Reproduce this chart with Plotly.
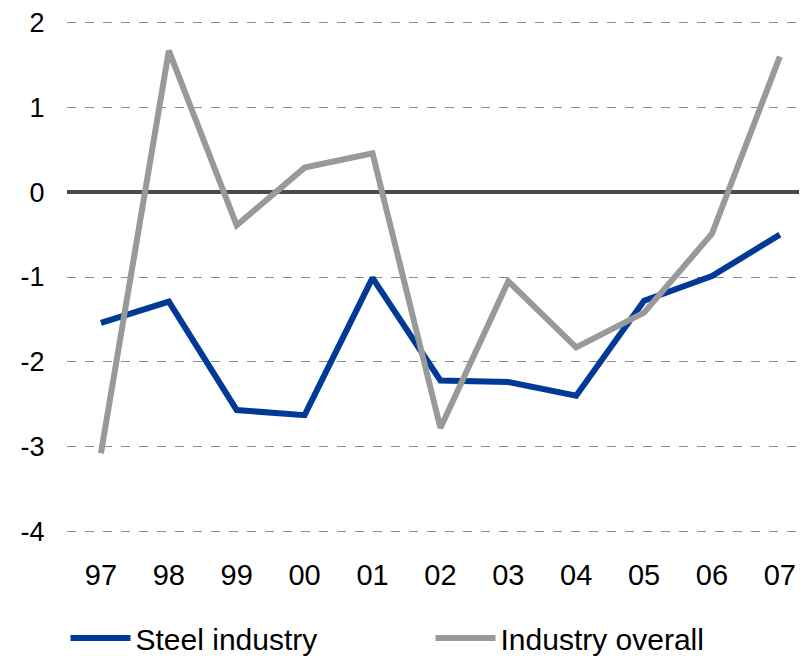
import plotly.graph_objects as go

years = ["97", "98", "99", "00", "01", "02", "03", "04", "05", "06", "07"]
steel_industry = [-1.54, -1.29, -2.57, -2.63, -1.01, -2.22, -2.24, -2.40, -1.28, -0.99, -0.50]
industry_overall = [-3.08, 1.67, -0.39, 0.29, 0.46, -2.78, -1.05, -1.83, -1.42, -0.49, 1.60]
y_ticks = [-4, -3, -2, -1, 0, 1, 2]
y_tick_labels = ["-4", "-3", "-2", "-1", "0", "1", "2"]

fig = go.Figure()
fig.add_trace(go.Scatter(x=years, y=steel_industry, mode="lines", name="Steel industry",
                         line=dict(color="#003a96", width=6)))
fig.add_trace(go.Scatter(x=years, y=industry_overall, mode="lines", name="Industry overall",
                         line=dict(color="#999999", width=6)))

fig.update_layout(
    width=799, height=649,
    margin=dict(l=59, r=0, t=13, b=124, autoexpand=False),
    paper_bgcolor="white", plot_bgcolor="white",
    font=dict(family="Liberation Sans, Arial, sans-serif", color="black"),
    showlegend=True,
    legend=dict(orientation="h", x=-0.002, y=-0.205, xanchor="left", yanchor="middle",
                font=dict(size=30), itemwidth=60, traceorder="normal",
                entrywidth=290, entrywidthmode="pixels"),
    xaxis=dict(type="category", range=[-0.5, 10.4], showgrid=False, showline=False,
               zeroline=False, ticks="outside", ticklen=16, tickcolor="rgba(0,0,0,0)",
               tickfont=dict(size=29), automargin=False),
    yaxis=dict(range=[-4.02, 2.02], tickvals=y_ticks, ticktext=y_tick_labels, showgrid=True,
               gridcolor="#8c8c8c", griddash="dash", gridwidth=1, zeroline=True,
               zerolinecolor="#4d4a4a", zerolinewidth=4, showline=False, ticks="outside",
               ticklen=16, tickcolor="rgba(0,0,0,0)", tickfont=dict(size=27),
               automargin=False),
)

fig.write_html("out.html")
